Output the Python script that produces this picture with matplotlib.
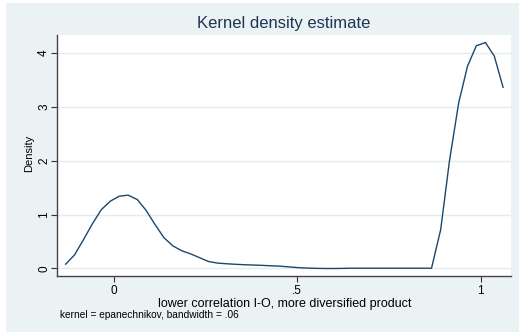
import numpy as np
import matplotlib
matplotlib.use("Agg")
import matplotlib.pyplot as plt
from matplotlib.patches import Rectangle

plt.rcParams['font.family'] = ['Liberation Sans', 'DejaVu Sans']

# kdensity evaluation points
grid_x = [-0.131, -0.107, -0.082, -0.058, -0.034, -0.009, 0.015, 0.039, 0.064, 0.088,
          0.112, 0.137, 0.161, 0.185, 0.210, 0.234, 0.258, 0.283, 0.307, 0.331,
          0.356, 0.380, 0.404, 0.429, 0.453, 0.477, 0.502, 0.526, 0.550, 0.575,
          0.599, 0.623, 0.648, 0.672, 0.696, 0.721, 0.745, 0.769, 0.793, 0.818,
          0.842, 0.866, 0.891, 0.915, 0.940, 0.964, 0.988, 1.013, 1.037, 1.061]
density = [0.08, 0.25, 0.54, 0.83, 1.09, 1.25, 1.34, 1.36, 1.28, 1.08,
           0.82, 0.57, 0.42, 0.33, 0.27, 0.20, 0.13, 0.10, 0.088, 0.078,
           0.070, 0.064, 0.058, 0.050, 0.043, 0.030, 0.016, 0.008, 0.003, 0.0,
           0.0, 0.002, 0.005, 0.005, 0.005, 0.005, 0.005, 0.005, 0.005, 0.005,
           0.005, 0.005, 0.72, 2.0, 3.07, 3.75, 4.13, 4.19, 3.94, 3.36]

xticks = [0, 0.5, 1]
xtick_labels = ["0", ".5", "1"]
yticks = [0, 1, 2, 3, 4]

W, H = 519, 332
bg = '#eaf2f3'
navy = '#1a476f'

fig = plt.figure(figsize=(W / 100, H / 100), dpi=100, facecolor='white')
fig.patches.append(Rectangle((6 / W, 0), 1, 1 - 3 / H, transform=fig.transFigure,
                             facecolor=bg, edgecolor='none', zorder=-1))

ax = fig.add_axes([57 / W, 1 - 275.5 / H, (511 - 57) / W, (275.5 - 35) / H])
ax.set_facecolor('white')
ax.plot(grid_x, density, color=navy, lw=1.0)

ax.set_xlim(-0.1546, 1.0826)
ax.set_ylim(-0.13, 4.33)
ax.set_xticks(xticks)
ax.set_xticklabels(xtick_labels)
ax.set_yticks(yticks)
ax.yaxis.grid(True, color='#e3ecef', lw=1.0)
ax.set_axisbelow(True)

for s in ['top', 'right']:
    ax.spines[s].set_visible(False)
for s in ['left', 'bottom']:
    ax.spines[s].set_color('#444444')
    ax.spines[s].set_linewidth(1.0)
ax.tick_params(length=4.3, width=0.8, color='#333333', labelsize=8.5)
ax.tick_params(axis='x', pad=2.5)
ax.tick_params(axis='y', pad=5)
plt.setp(ax.get_yticklabels(), rotation=90, va='center', ha='center')

ax.set_ylabel("Density", fontsize=8)
ax.yaxis.set_label_coords(-0.0496, 0.509)
ax.set_xlabel("lower correlation I-O, more diversified product", fontsize=9)
ax.xaxis.set_label_coords(0.502, -0.092)

fig.text(284 / W, 1 - 28.3 / H, "Kernel density estimate", ha='center', va='baseline',
         fontsize=12, color='#1e3552')
fig.text(60 / W, 1 - 318 / H, "kernel = epanechnikov, bandwidth = .06", ha='left',
         va='baseline', fontsize=7.3)

fig.savefig("out.png", dpi=100, facecolor=fig.get_facecolor())
